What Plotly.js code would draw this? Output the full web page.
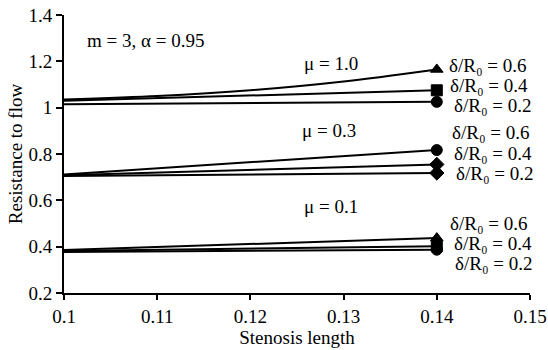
<!DOCTYPE html>
<html>
<head>
<meta charset="utf-8">
<script src="https://cdn.plot.ly/plotly-3.0.1.min.js"></script>
<style>html,body{margin:0;padding:0;background:#fff;}#chart{width:548px;height:350px;}</style>
</head>
<body>
<div id="chart"></div>
<script>
// Stenosis length values
const xTwo = [0.1, 0.14];
const xFive = [0.1, 0.11, 0.12, 0.13, 0.14];

// Resistance to flow, mu = 1.0
const mu10_d06 = [1.035, 1.05, 1.075, 1.113, 1.165];
const mu10_d04 = [1.03, 1.075];
const mu10_d02 = [1.015, 1.025];
// mu = 0.3
const mu03_d06 = [0.712, 0.817];
const mu03_d04 = [0.708, 0.755];
const mu03_d02 = [0.705, 0.718];
// mu = 0.1
const mu01_d06 = [0.386, 0.437];
const mu01_d04 = [0.381, 0.402];
const mu01_d02 = [0.377, 0.387];

const xTicks = [0.1, 0.11, 0.12, 0.13, 0.14, 0.15];
const yTicks = [0.2, 0.4, 0.6, 0.8, 1.0, 1.2, 1.4];
const yTickText = ['0.2', '0.4', '0.6', '0.8', '1', '1.2', '1.4'];

const FONT = 'Liberation Serif';
const FS = 19;

function series(x, y, symbol) {
  const sizes = y.map((v, i) => i === y.length - 1 ? 11 : 0);
  return {
    x: x, y: y, type: 'scatter', mode: 'lines+markers',
    line: {color: '#000000', width: 2, shape: 'spline', smoothing: 0.8},
    marker: {symbol: symbol, size: sizes, color: '#000000', opacity: 1, line: {width: 1, color: '#000000'}},
    opacity: 1,
    showlegend: false, hoverinfo: 'skip'
  };
}

const data = [
  series(xFive, mu10_d06, 'triangle-up'),
  series(xTwo, mu10_d04, 'square'),
  series(xTwo, mu10_d02, 'circle'),
  series(xTwo, mu03_d06, 'circle'),
  series(xTwo, mu03_d04, 'diamond'),
  series(xTwo, mu03_d02, 'diamond'),
  series(xTwo, mu01_d06, 'triangle-up'),
  series(xTwo, mu01_d04, 'square'),
  series(xTwo, mu01_d02, 'circle')
];

function ann(text, x, y) {
  return {text: text, x: x, y: y, xref: 'x', yref: 'y', xanchor: 'left', yanchor: 'middle',
          showarrow: false, font: {family: FONT, size: FS, color: '#000'}};
}

const dl = v => 'δ/R₀ = ' + v;

const annotations = [
  ann('m = 3, α = 0.95', 0.1023, 1.29),
  ann('μ = 1.0', 0.1255, 1.19),
  ann('μ = 0.3', 0.1253, 0.903),
  ann('μ = 0.1', 0.1255, 0.574),
  ann(dl('0.6'), 0.1411, 1.183),
  ann(dl('0.4'), 0.1412, 1.097),
  ann(dl('0.2'), 0.1416, 1.011),
  ann(dl('0.6'), 0.1414, 0.891),
  ann(dl('0.4'), 0.1416, 0.803),
  ann(dl('0.2'), 0.1418, 0.717),
  ann(dl('0.6'), 0.1412, 0.501),
  ann(dl('0.4'), 0.1416, 0.415),
  ann(dl('0.2'), 0.1417, 0.326)
];

const layout = {
  width: 548, height: 350,
  margin: {l: 64, r: 18, t: 14.5, b: 56.7},
  paper_bgcolor: '#fff', plot_bgcolor: '#fff',
  font: {family: FONT, size: FS, color: '#000'},
  xaxis: {
    range: [0.1, 0.15], tickvals: xTicks, ticktext: xTicks.map(String),
    showgrid: false, zeroline: false, showline: true, linecolor: '#000', linewidth: 2,
    ticks: 'outside', ticklen: 5, tickwidth: 2, tickcolor: '#000',
    tickfont: {family: FONT, size: FS, color: '#000'},
    title: {text: 'Stenosis length', font: {family: FONT, size: FS, color: '#000'}, standoff: 0}
  },
  yaxis: {
    range: [0.2, 1.4], tickvals: yTicks, ticktext: yTickText,
    showgrid: false, zeroline: false, showline: true, linecolor: '#000', linewidth: 2,
    ticks: 'outside', ticklen: 6, tickwidth: 2, tickcolor: '#000',
    tickfont: {family: FONT, size: FS, color: '#000'},
    title: {text: 'Resistance to flow', font: {family: FONT, size: FS, color: '#000'}, standoff: 1}
  },
  annotations: annotations
};

Plotly.newPlot('chart', data, layout, {displayModeBar: false, staticPlot: true});
</script>
</body>
</html>
